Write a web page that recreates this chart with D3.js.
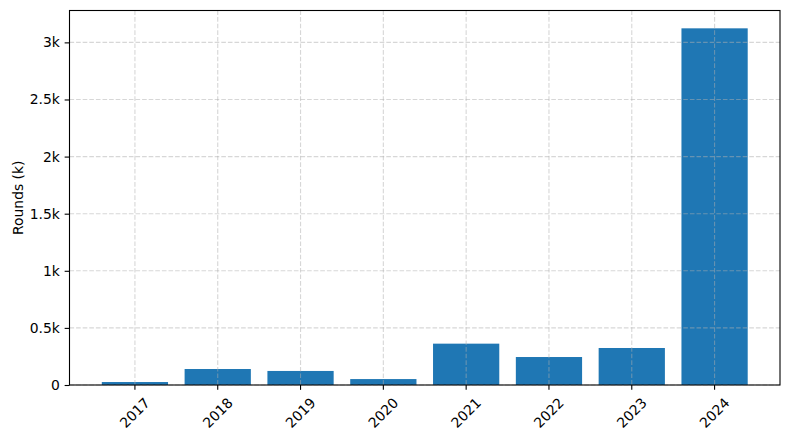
<!DOCTYPE html>
<html>
<head>
<meta charset="utf-8">
<script src="https://cdn.jsdelivr.net/npm/d3@7"></script>
<style>
  html, body { margin: 0; padding: 0; background: #fff; }
  svg text { font-family: "DejaVu Sans", sans-serif; fill: #000; }
</style>
</head>
<body>
<svg id="chart" width="790" height="440"></svg>
<script>
// Data (values in thousands of rounds)
const years = ["2017", "2018", "2019", "2020", "2021", "2022", "2023", "2024"];
const rounds = [0.026, 0.140, 0.123, 0.052, 0.362, 0.245, 0.324, 3.123];
const yTicks = [0, 0.5, 1, 1.5, 2, 2.5, 3];
const yTickLabels = ["0", "0.5k", "1k", "1.5k", "2k", "2.5k", "3k"];
const yLabel = "Rounds (k)";

(function () {
const mLeft = 69.5, mRight = 780, mTop = 10.5, mBottom = 385;
const fs = 13.9;

const svg = d3.select("#chart");

const x = d3.scaleBand().domain(years).range([mLeft, mRight])
  .paddingInner(0.2).paddingOuter(0.39);
const y = d3.scaleLinear().domain([0, d3.max(rounds) * 1.05]).range([mBottom, mTop]);

// Bars
svg.append("g").selectAll("rect").data(years).join("rect")
  .attr("x", d => x(d))
  .attr("width", x.bandwidth())
  .attr("y", (d, i) => y(rounds[i]))
  .attr("height", (d, i) => y(0) - y(rounds[i]))
  .attr("fill", "#1f77b4");

// Grid (drawn above bars)
const grid = svg.append("g")
  .attr("stroke", "#b0b0b0").attr("stroke-opacity", 0.5)
  .attr("stroke-width", 1.1).attr("stroke-dasharray", "4.6,2");
grid.selectAll("line.h").data(yTicks).join("line").attr("class", "h")
  .attr("x1", mLeft).attr("x2", mRight)
  .attr("y1", d => y(d)).attr("y2", d => y(d));
grid.selectAll("line.v").data(years).join("line").attr("class", "v")
  .attr("x1", d => x(d) + x.bandwidth() / 2).attr("x2", d => x(d) + x.bandwidth() / 2)
  .attr("y1", mTop).attr("y2", mBottom);

// Axes
const tickLen = 4.86, pad = 4.86;
const yAxis = d3.axisLeft(y).tickValues(yTicks)
  .tickFormat((d, i) => yTickLabels[i]).tickSize(tickLen).tickPadding(pad);
const gy = svg.append("g").attr("transform", `translate(${mLeft},0)`).call(yAxis);
gy.select(".domain").remove();
gy.selectAll(".tick line").attr("stroke", "#000").attr("stroke-width", 1.1);
gy.selectAll(".tick text").attr("font-size", fs).attr("font-family", "DejaVu Sans");

const xAxis = d3.axisBottom(x).tickSize(tickLen).tickPadding(pad);
const gx = svg.append("g").attr("transform", `translate(0,${mBottom})`).call(xAxis);
gx.select(".domain").remove();
gx.selectAll(".tick line").attr("stroke", "#000").attr("stroke-width", 1.1);
const labelTop = tickLen + pad;
gx.selectAll(".tick text")
  .attr("font-size", fs).attr("font-family", "DejaVu Sans")
  .attr("text-anchor", "middle")
  .attr("y", null).attr("dy", "0.346em")
  .each(function () {
    const w = this.getComputedTextLength();
    const h = 1.164 * fs;
    const half = (w + h) * Math.SQRT1_2 / 2;
    d3.select(this).attr("transform", `translate(0,${labelTop + half}) rotate(-45)`);
  });

// Spines
svg.append("rect").attr("x", mLeft).attr("y", mTop)
  .attr("width", mRight - mLeft).attr("height", mBottom - mTop)
  .attr("fill", "none").attr("stroke", "#000").attr("stroke-width", 1.1);

// Y label
svg.append("text")
  .attr("transform", `translate(23,${(mTop + mBottom) / 2}) rotate(-90)`)
  .attr("text-anchor", "middle")
  .attr("font-size", fs)
  .text(yLabel);
})();
</script>
</body>
</html>
